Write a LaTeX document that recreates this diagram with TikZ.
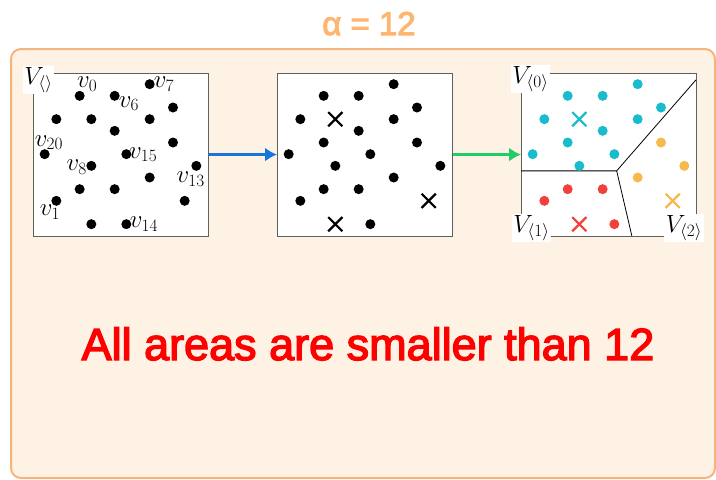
\documentclass[tikz,border=0pt]{standalone}
\usepackage{fontspec}
\newfontfamily\sansfont[FakeBold=3]{Liberation Sans}
\usetikzlibrary{arrows.meta,shapes.misc}

\definecolor{framefill}{RGB}{253,242,227}
\definecolor{frameline}{RGB}{246,180,125}
\definecolor{titleorange}{RGB}{255,180,112}
\definecolor{panelgray}{RGB}{95,95,95}
\definecolor{ptcyan}{RGB}{24,188,205}
\definecolor{ptred}{RGB}{240,66,58}
\definecolor{ptorange}{RGB}{247,184,76}
\definecolor{arrowblue}{RGB}{22,118,222}
\definecolor{arrowgreen}{RGB}{34,204,104}

\tikzset{
  panel/.style={draw=panelgray, line width=.8pt, fill=white, anchor=north west,
    minimum width=175pt, minimum height=163.3pt, inner sep=0pt},
  pt/.style={circle, fill=#1, inner sep=0pt, minimum size=10pt},
  pt/.default=black,
  centre/.style={draw=#1, cross out, line width=2.2pt, inner sep=0pt, minimum size=12pt},
  centre/.default=black,
  vlab/.style={inner sep=0pt, font=\fontsize{23}{23}\selectfont},
  Vlab/.style={fill=white, inner sep=1.5pt, font=\fontsize{27}{27}\selectfont},
  flow/.style={line width=3pt, -{Latex[length=12pt,width=14pt]}}
}

\begin{document}
\begin{tikzpicture}[x=1pt,y=-1pt]
\useasboundingbox (0,0) rectangle (716,480);

% frame and title
\draw[draw=frameline, fill=framefill, line width=2pt, rounded corners=10pt] (11,49) rectangle (715,478);
\node[text=titleorange, font=\sansfont\fontsize{33}{33}\selectfont, anchor=base] (alpha) at (369,35) {α = 12};

% three panels
\node[panel] (pA) at (33,72.5) {};
\node[panel] (pB) at (277,72.5) {};
\node[panel] (pC) at (521,72.5) {};

\draw[flow, arrowblue] (pA.east) -- (pB.west);
\draw[flow, arrowgreen] (pB.east) -- (pC.west);

% points of the first panel
\begin{scope}[shift={(33,72.5)}, x=11.667pt, y=-11.667pt]
  \foreach \x/\y [count=\i] in {4/2, 7/2, 10/1, 12/3, 2/4, 5/4, 10/4, 7/5, 12/6, 1/7,
      8/7, 5/8, 14/8, 10/9, 4/10, 7/10, 2/11, 13/11, 5/13, 8/13}
    \node[pt] (a\i) at (\x,\y) {};
  \node[vlab] (la0)  at (4.65,0.97)  {$v_{0}$};
  \node[vlab] (la6)  at (8.23,2.68)  {$v_{6}$};
  \node[vlab] (la7)  at (11.23,0.97) {$v_{7}$};
  \node[vlab] (la20) at (1.37,6.02)  {$v_{20}$};
  \node[vlab] (la15) at (9.45,7.05)  {$v_{15}$};
  \node[vlab] (la8)  at (3.74,8.11)  {$v_{8}$};
  \node[vlab] (la13) at (13.51,9.11) {$v_{13}$};
  \node[vlab] (la1)  at (1.46,11.97) {$v_{1}$};
  \node[vlab] (la14) at (9.51,12.97) {$v_{14}$};
\end{scope}

% second panel: points and chosen centres
\begin{scope}[shift={(277,72.5)}, x=11.667pt, y=-11.667pt]
  \foreach \x/\y [count=\i] in {4/2, 7/2, 10/1, 12/3, 2/4, 10/4, 7/5, 4/6, 12/6, 1/7,
      8/7, 5/8, 14/8, 10/9, 4/10, 7/10, 2/11, 8/13}
    \node[pt] (b\i) at (\x,\y) {};
  \node[centre] (c0) at (5,4) {};
  \node[centre] (c1) at (5,13) {};
  \node[centre] (c2) at (13,11) {};
\end{scope}

% third panel: the three areas
\begin{scope}[shift={(521,72.5)}, x=11.667pt, y=-11.667pt]
  \coordinate (mid) at (8.2,8.43);
  \draw[line width=.8pt] (0,8.43) -- (mid) -- (15,0.63);
  \draw[line width=.8pt] (mid) -- (9.5,14);
  \foreach \x/\y [count=\i] in {10/1, 4/2, 7/2, 12/3, 2/4, 10/4, 7/5, 4/6, 1/7, 8/7, 5/8}
    \node[pt=ptcyan] (q\i) at (\x,\y) {};
  \foreach \x/\y [count=\i] in {4/10, 7/10, 2/11, 8/13}
    \node[pt=ptred] (r\i) at (\x,\y) {};
  \foreach \x/\y [count=\i] in {12/6, 14/8, 10/9}
    \node[pt=ptorange] (s\i) at (\x,\y) {};
  \node[centre=ptcyan] (d0) at (5,4) {};
  \node[centre=ptred] (d1) at (5,13) {};
  \node[centre=ptorange] (d2) at (13,11) {};
\end{scope}

% area names
\node[Vlab] (Vall) at (38.5,80) {$V_{\langle\rangle}$};
\node[Vlab] (V0) at (530.5,79) {$V_{\langle0\rangle}$};
\node[Vlab] (V1) at (531.5,228) {$V_{\langle1\rangle}$};
\node[Vlab] (V2) at (684,228) {$V_{\langle2\rangle}$};

% result
\node[text=red, font=\sansfont\fontsize{45}{45}\selectfont, anchor=base] (msg) at (368,360) {All areas are smaller than 12};
\end{tikzpicture}
\end{document}
